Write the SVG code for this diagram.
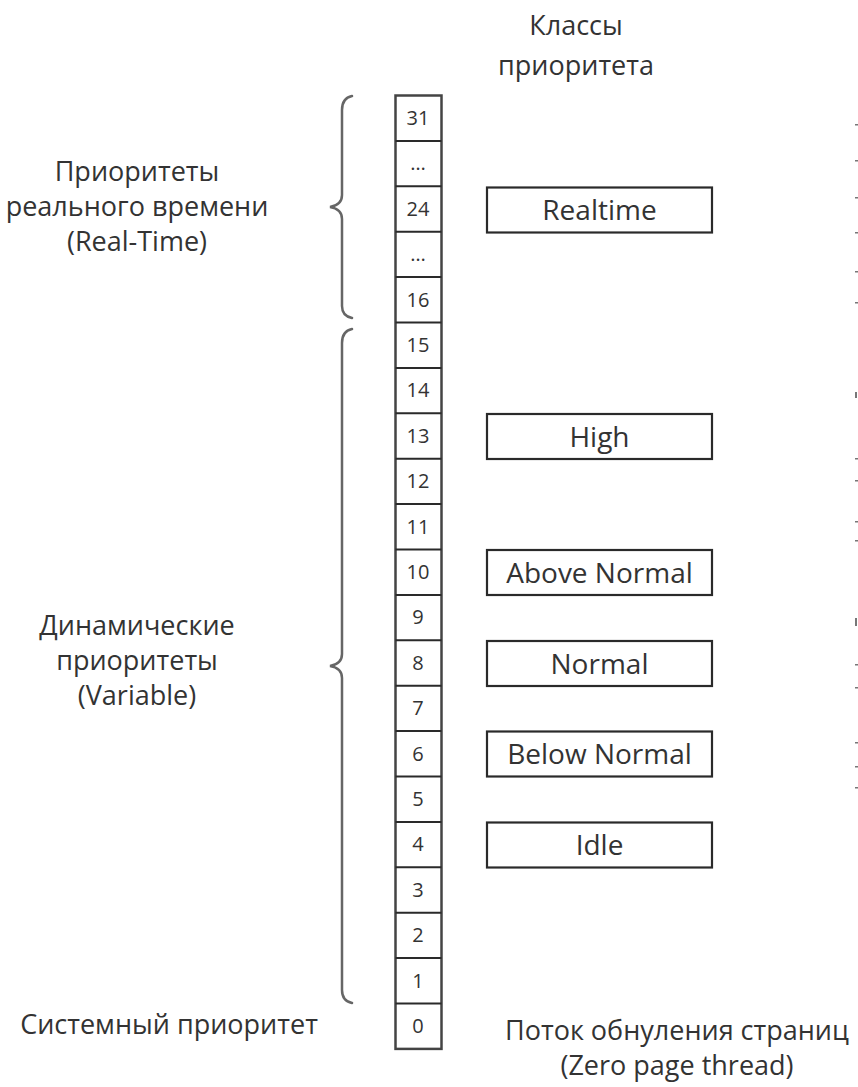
<svg xmlns="http://www.w3.org/2000/svg" width="858" height="1087" viewBox="0 0 858 1087">
<style>
.lbl{font-family:"Open Sans","Noto Sans","Liberation Sans",sans-serif;font-size:27px;fill:#333;text-anchor:middle}
.blbl{font-family:"Open Sans","Noto Sans","Liberation Sans",sans-serif;font-size:28px;fill:#333;text-anchor:middle}
.num{font-family:"Open Sans","Noto Sans","Liberation Sans",sans-serif;font-size:20px;fill:#333;text-anchor:middle}
.cell{fill:none;stroke:#2a2a2a;stroke-width:2}
.col{fill:#fff;stroke:#444;stroke-width:2.5}
.box{fill:#fff;stroke:#2a2a2a;stroke-width:2.2}
.brace{fill:none;stroke:#666;stroke-width:2.5;stroke-linecap:round}
.mark{fill:#777}
</style>
<rect width="858" height="1087" fill="#fff"/>
<g id="header">
<text class="lbl" x="576" y="35">Классы</text>
<text class="lbl" x="576" y="75">приоритета</text>
</g>
<g id="connectors">
<path class="brace" d="M352,96 Q342,98 342,110 L342,195 Q342,205 330,207 Q342,209 342,219 L342,306 Q342,316 352,318"/>
<path class="brace" d="M352,329 Q342,331 342,343 L342,654 Q342,664 330,666 Q342,668 342,678 L342,990 Q342,1001 352,1003"/>
</g>
<g id="realtime-label">
<text class="lbl" x="137" y="181">Приоритеты</text>
<text class="lbl" x="137" y="216">реального времени</text>
<text class="lbl" x="137" y="251">(Real-Time)</text>
</g>
<g id="variable-label">
<text class="lbl" x="137" y="635">Динамические</text>
<text class="lbl" x="137" y="670">приоритеты</text>
<text class="lbl" x="137" y="705">(Variable)</text>
</g>
<g id="system-label">
<text class="lbl" x="169" y="1034">Системный приоритет</text>
</g>
<g id="zero-page-label">
<text class="lbl" x="677" y="1040">Поток обнуления страниц</text>
<text class="lbl" x="677" y="1075">(Zero page thread)</text>
</g>
<g id="priority-column">
<rect class="col" x="395.5" y="95.5" width="46" height="953.4"/>
<path class="cell" d="M395.5,140.9H441.5M395.5,186.3H441.5M395.5,231.7H441.5M395.5,277.1H441.5M395.5,322.5H441.5M395.5,367.9H441.5M395.5,413.3H441.5M395.5,458.7H441.5M395.5,504.1H441.5M395.5,549.5H441.5M395.5,594.9H441.5M395.5,640.3H441.5M395.5,685.7H441.5M395.5,731.1H441.5M395.5,776.5H441.5M395.5,821.9H441.5M395.5,867.3H441.5M395.5,912.7H441.5M395.5,958.1H441.5M395.5,1003.5H441.5"/>
<text class="num" x="418" y="125">31</text>
<text class="num" x="418" y="170" fill="#777">…</text>
<text class="num" x="418" y="216">24</text>
<text class="num" x="418" y="261" fill="#777">…</text>
<text class="num" x="418" y="307">16</text>
<text class="num" x="418" y="352">15</text>
<text class="num" x="418" y="397">14</text>
<text class="num" x="418" y="443">13</text>
<text class="num" x="418" y="488">12</text>
<text class="num" x="418" y="534">11</text>
<text class="num" x="418" y="579">10</text>
<text class="num" x="418" y="624">9</text>
<text class="num" x="418" y="670">8</text>
<text class="num" x="418" y="715">7</text>
<text class="num" x="418" y="761">6</text>
<text class="num" x="418" y="806">5</text>
<text class="num" x="418" y="851">4</text>
<text class="num" x="418" y="897">3</text>
<text class="num" x="418" y="942">2</text>
<text class="num" x="418" y="988">1</text>
<text class="num" x="418" y="1033">0</text>
</g>
<g id="class-realtime">
<rect class="box" x="487" y="187.5" width="225" height="45"/>
<text class="blbl" x="599.5" y="220">Realtime</text>
</g>
<g id="class-high">
<rect class="box" x="487" y="414" width="225" height="45"/>
<text class="blbl" x="599.5" y="447">High</text>
</g>
<g id="class-above-normal">
<rect class="box" x="487" y="550" width="225" height="45"/>
<text class="blbl" x="599.5" y="583">Above Normal</text>
</g>
<g id="class-normal">
<rect class="box" x="487" y="641" width="225" height="45"/>
<text class="blbl" x="599.5" y="674">Normal</text>
</g>
<g id="class-below-normal">
<rect class="box" x="487" y="731.5" width="225" height="45"/>
<text class="blbl" x="599.5" y="764">Below Normal</text>
</g>
<g id="class-idle">
<rect class="box" x="487" y="822.5" width="225" height="45"/>
<text class="blbl" x="599.5" y="855">Idle</text>
</g>
<g id="edge-marks">
<rect class="mark" x="855" y="124" width="3" height="1.5"/>
<rect class="mark" x="855" y="160" width="3" height="1.5"/>
<rect class="mark" x="855" y="197" width="3" height="1.5"/>
<rect class="mark" x="855" y="232" width="3" height="1.5"/>
<rect class="mark" x="855" y="271" width="3" height="1.5"/>
<rect class="mark" x="855" y="302" width="3" height="1.5"/>
<rect class="mark" x="855" y="392" width="2" height="6"/>
<rect class="mark" x="855" y="458" width="3" height="1.5"/>
<rect class="mark" x="855" y="480" width="3" height="1.5"/>
<rect class="mark" x="855" y="521" width="3" height="1.5"/>
<rect class="mark" x="855" y="540" width="3" height="1.5"/>
<rect class="mark" x="855" y="618" width="2" height="8"/>
<rect class="mark" x="855" y="664" width="3" height="1.5"/>
<rect class="mark" x="855" y="687" width="3" height="1.5"/>
<rect class="mark" x="855" y="742" width="3" height="1.5"/>
<rect class="mark" x="855" y="766" width="3" height="1.5"/>
<rect class="mark" x="855" y="787" width="3" height="1.5"/>
</g>
</svg>
